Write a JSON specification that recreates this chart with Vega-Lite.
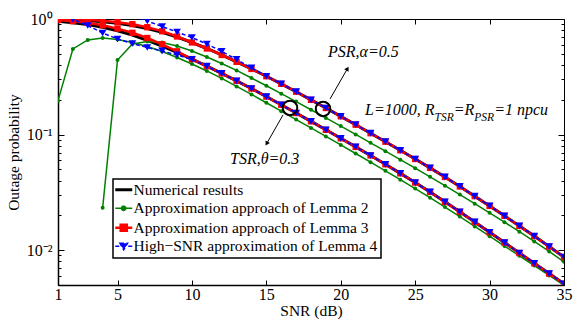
{
"$schema": "https://vega.github.io/schema/vega-lite/v6.json",
"width": 506, "height": 266,
"autosize": {"type": "none"},
"padding": {"left": 58, "top": 19, "right": 9, "bottom": 35},
"background": "white",
"config": {
  "view": {"stroke": "black", "strokeWidth": 1},
  "font": "Liberation Serif",
  "axis": {"labelFont": "Liberation Serif", "titleFont": "Liberation Serif", "labelFontSize": 16, "titleFontSize": 15.5, "labelColor": "black", "titleColor": "black", "titleFontWeight": "normal", "domainColor": "black", "tickColor": "black", "grid": false, "labelOverlap": false}
},
"datasets": {"one": [{}]},
"data": {"values": [
{"g":"P","m":"N","x":1,"p":0.9901},{"g":"P","m":"N","x":2,"p":0.9823},{"g":"P","m":"N","x":3,"p":0.9687},{"g":"P","m":"N","x":4,"p":0.9477},{"g":"P","m":"N","x":5,"p":0.918},{"g":"P","m":"N","x":6,"p":0.8786},{"g":"P","m":"N","x":7,"p":0.8276},{"g":"P","m":"N","x":8,"p":0.7675},{"g":"P","m":"N","x":9,"p":0.6988},{"g":"P","m":"N","x":10,"p":0.6264},{"g":"P","m":"N","x":11,"p":0.5558},{"g":"P","m":"N","x":12,"p":0.4884},{"g":"P","m":"N","x":13,"p":0.4257},{"g":"P","m":"N","x":14,"p":0.3698},{"g":"P","m":"N","x":15,"p":0.3197},{"g":"P","m":"N","x":16,"p":0.2749},{"g":"P","m":"N","x":17,"p":0.2349},{"g":"P","m":"N","x":18,"p":0.1999},{"g":"P","m":"N","x":19,"p":0.1698},{"g":"P","m":"N","x":20,"p":0.1439},{"g":"P","m":"N","x":21,"p":0.1218},{"g":"P","m":"N","x":22,"p":0.1028},{"g":"P","m":"N","x":23,"p":0.08683},{"g":"P","m":"N","x":24,"p":0.07314},{"g":"P","m":"N","x":25,"p":0.06152},{"g":"P","m":"N","x":26,"p":0.05154},{"g":"P","m":"N","x":27,"p":0.04301},{"g":"P","m":"N","x":28,"p":0.03559},{"g":"P","m":"N","x":29,"p":0.02935},{"g":"P","m":"N","x":30,"p":0.02415},{"g":"P","m":"N","x":31,"p":0.01983},{"g":"P","m":"N","x":32,"p":0.01622},{"g":"P","m":"N","x":33,"p":0.01324},{"g":"P","m":"N","x":34,"p":0.01076},{"g":"P","m":"N","x":35,"p":0.008718},
{"g":"T","m":"N","x":1,"p":0.9553},{"g":"T","m":"N","x":2,"p":0.929},{"g":"T","m":"N","x":3,"p":0.8945},{"g":"T","m":"N","x":4,"p":0.8477},{"g":"T","m":"N","x":5,"p":0.7906},{"g":"T","m":"N","x":6,"p":0.7258},{"g":"T","m":"N","x":7,"p":0.6545},{"g":"T","m":"N","x":8,"p":0.583},{"g":"T","m":"N","x":9,"p":0.5144},{"g":"T","m":"N","x":10,"p":0.45},{"g":"T","m":"N","x":11,"p":0.3909},{"g":"T","m":"N","x":12,"p":0.3387},{"g":"T","m":"N","x":13,"p":0.2917},{"g":"T","m":"N","x":14,"p":0.2503},{"g":"T","m":"N","x":15,"p":0.213},{"g":"T","m":"N","x":16,"p":0.1813},{"g":"T","m":"N","x":17,"p":0.1537},{"g":"T","m":"N","x":18,"p":0.1302},{"g":"T","m":"N","x":19,"p":0.11},{"g":"T","m":"N","x":20,"p":0.0929},{"g":"T","m":"N","x":21,"p":0.07828},{"g":"T","m":"N","x":22,"p":0.06597},{"g":"T","m":"N","x":23,"p":0.05537},{"g":"T","m":"N","x":24,"p":0.04621},{"g":"T","m":"N","x":25,"p":0.03847},{"g":"T","m":"N","x":26,"p":0.0319},{"g":"T","m":"N","x":27,"p":0.0262},{"g":"T","m":"N","x":28,"p":0.02147},{"g":"T","m":"N","x":29,"p":0.01757},{"g":"T","m":"N","x":30,"p":0.0143},{"g":"T","m":"N","x":31,"p":0.01165},{"g":"T","m":"N","x":32,"p":0.009458},{"g":"T","m":"N","x":33,"p":0.007702},{"g":"T","m":"N","x":34,"p":0.006276},{"g":"T","m":"N","x":35,"p":0.005124},
{"g":"P","m":"A","x":4,"p":0.02325},{"g":"P","m":"A","x":5,"p":0.442},{"g":"P","m":"A","x":6,"p":0.608},{"g":"P","m":"A","x":7,"p":0.6388},{"g":"P","m":"A","x":8,"p":0.6264},{"g":"P","m":"A","x":9,"p":0.5842},{"g":"P","m":"A","x":10,"p":0.529},{"g":"P","m":"A","x":11,"p":0.4693},{"g":"P","m":"A","x":12,"p":0.4124},{"g":"P","m":"A","x":13,"p":0.3589},{"g":"P","m":"A","x":14,"p":0.309},{"g":"P","m":"A","x":15,"p":0.2646},{"g":"P","m":"A","x":16,"p":0.2261},{"g":"P","m":"A","x":17,"p":0.1929},{"g":"P","m":"A","x":18,"p":0.1641},{"g":"P","m":"A","x":19,"p":0.1394},{"g":"P","m":"A","x":20,"p":0.1184},{"g":"P","m":"A","x":21,"p":0.1004},{"g":"P","m":"A","x":22,"p":0.08495},{"g":"P","m":"A","x":23,"p":0.07185},{"g":"P","m":"A","x":24,"p":0.06068},{"g":"P","m":"A","x":25,"p":0.05123},{"g":"P","m":"A","x":26,"p":0.04309},{"g":"P","m":"A","x":27,"p":0.03617},{"g":"P","m":"A","x":28,"p":0.0303},{"g":"P","m":"A","x":29,"p":0.02527},{"g":"P","m":"A","x":30,"p":0.02104},{"g":"P","m":"A","x":31,"p":0.01746},{"g":"P","m":"A","x":32,"p":0.01445},{"g":"P","m":"A","x":33,"p":0.01191},{"g":"P","m":"A","x":34,"p":0.009764},{"g":"P","m":"A","x":35,"p":0.007937},
{"g":"T","m":"A","x":1,"p":0.1967},{"g":"T","m":"A","x":2,"p":0.5504},{"g":"T","m":"A","x":3,"p":0.6584},{"g":"T","m":"A","x":4,"p":0.6851},{"g":"T","m":"A","x":5,"p":0.665},{"g":"T","m":"A","x":6,"p":0.6264},{"g":"T","m":"A","x":7,"p":0.5785},{"g":"T","m":"A","x":8,"p":0.5237},{"g":"T","m":"A","x":9,"p":0.4647},{"g":"T","m":"A","x":10,"p":0.4083},{"g":"T","m":"A","x":11,"p":0.3553},{"g":"T","m":"A","x":12,"p":0.306},{"g":"T","m":"A","x":13,"p":0.2609},{"g":"T","m":"A","x":14,"p":0.2225},{"g":"T","m":"A","x":15,"p":0.1887},{"g":"T","m":"A","x":16,"p":0.1596},{"g":"T","m":"A","x":17,"p":0.135},{"g":"T","m":"A","x":18,"p":0.1143},{"g":"T","m":"A","x":19,"p":0.09648},{"g":"T","m":"A","x":20,"p":0.08147},{"g":"T","m":"A","x":21,"p":0.06866},{"g":"T","m":"A","x":22,"p":0.05774},{"g":"T","m":"A","x":23,"p":0.04857},{"g":"T","m":"A","x":24,"p":0.04075},{"g":"T","m":"A","x":25,"p":0.03414},{"g":"T","m":"A","x":26,"p":0.02849},{"g":"T","m":"A","x":27,"p":0.02362},{"g":"T","m":"A","x":28,"p":0.01952},{"g":"T","m":"A","x":29,"p":0.01606},{"g":"T","m":"A","x":30,"p":0.01321},{"g":"T","m":"A","x":31,"p":0.01087},{"g":"T","m":"A","x":32,"p":0.008945},{"g":"T","m":"A","x":33,"p":0.007357},{"g":"T","m":"A","x":34,"p":0.006054},{"g":"T","m":"A","x":35,"p":0.004982},
{"g":"P","m":"B","x":1,"p":1.0},{"g":"P","m":"B","x":2,"p":0.996},{"g":"P","m":"B","x":3,"p":0.9842},{"g":"P","m":"B","x":4,"p":0.9667},{"g":"P","m":"B","x":5,"p":0.9383},{"g":"P","m":"B","x":6,"p":0.9017},{"g":"P","m":"B","x":7,"p":0.8494},{"g":"P","m":"B","x":8,"p":0.7829},{"g":"P","m":"B","x":9,"p":0.7058},{"g":"P","m":"B","x":10,"p":0.6264},{"g":"P","m":"B","x":11,"p":0.5558},{"g":"P","m":"B","x":12,"p":0.4884},{"g":"P","m":"B","x":13,"p":0.4257},{"g":"P","m":"B","x":14,"p":0.3698},{"g":"P","m":"B","x":15,"p":0.3197},{"g":"P","m":"B","x":16,"p":0.2749},{"g":"P","m":"B","x":17,"p":0.2349},{"g":"P","m":"B","x":18,"p":0.1999},{"g":"P","m":"B","x":19,"p":0.1698},{"g":"P","m":"B","x":20,"p":0.1439},{"g":"P","m":"B","x":21,"p":0.1218},{"g":"P","m":"B","x":22,"p":0.1028},{"g":"P","m":"B","x":23,"p":0.08683},{"g":"P","m":"B","x":24,"p":0.07314},{"g":"P","m":"B","x":25,"p":0.06152},{"g":"P","m":"B","x":26,"p":0.05154},{"g":"P","m":"B","x":27,"p":0.04301},{"g":"P","m":"B","x":28,"p":0.03559},{"g":"P","m":"B","x":29,"p":0.02935},{"g":"P","m":"B","x":30,"p":0.02415},{"g":"P","m":"B","x":31,"p":0.01983},{"g":"P","m":"B","x":32,"p":0.01622},{"g":"P","m":"B","x":33,"p":0.01324},{"g":"P","m":"B","x":34,"p":0.01076},{"g":"P","m":"B","x":35,"p":0.008718},
{"g":"T","m":"B","x":1,"p":0.9803},{"g":"T","m":"B","x":2,"p":0.9572},{"g":"T","m":"B","x":3,"p":0.9273},{"g":"T","m":"B","x":4,"p":0.8822},{"g":"T","m":"B","x":5,"p":0.826},{"g":"T","m":"B","x":6,"p":0.7598},{"g":"T","m":"B","x":7,"p":0.6851},{"g":"T","m":"B","x":8,"p":0.6044},{"g":"T","m":"B","x":9,"p":0.5258},{"g":"T","m":"B","x":10,"p":0.45},{"g":"T","m":"B","x":11,"p":0.3909},{"g":"T","m":"B","x":12,"p":0.3387},{"g":"T","m":"B","x":13,"p":0.2917},{"g":"T","m":"B","x":14,"p":0.2503},{"g":"T","m":"B","x":15,"p":0.213},{"g":"T","m":"B","x":16,"p":0.1813},{"g":"T","m":"B","x":17,"p":0.1537},{"g":"T","m":"B","x":18,"p":0.1302},{"g":"T","m":"B","x":19,"p":0.11},{"g":"T","m":"B","x":20,"p":0.0929},{"g":"T","m":"B","x":21,"p":0.07828},{"g":"T","m":"B","x":22,"p":0.06597},{"g":"T","m":"B","x":23,"p":0.05537},{"g":"T","m":"B","x":24,"p":0.04621},{"g":"T","m":"B","x":25,"p":0.03847},{"g":"T","m":"B","x":26,"p":0.0319},{"g":"T","m":"B","x":27,"p":0.0262},{"g":"T","m":"B","x":28,"p":0.02147},{"g":"T","m":"B","x":29,"p":0.01757},{"g":"T","m":"B","x":30,"p":0.0143},{"g":"T","m":"B","x":31,"p":0.01165},{"g":"T","m":"B","x":32,"p":0.009458},{"g":"T","m":"B","x":33,"p":0.007702},{"g":"T","m":"B","x":34,"p":0.006276},{"g":"T","m":"B","x":35,"p":0.005124},
{"g":"P","m":"C","x":4,"p":1.348},{"g":"P","m":"C","x":5,"p":1.196},{"g":"P","m":"C","x":6,"p":1.072},{"g":"P","m":"C","x":7,"p":0.961},{"g":"P","m":"C","x":8,"p":0.8614},{"g":"P","m":"C","x":9,"p":0.7721},{"g":"P","m":"C","x":10,"p":0.6919},{"g":"P","m":"C","x":11,"p":0.608},{"g":"P","m":"C","x":12,"p":0.5237},{"g":"P","m":"C","x":13,"p":0.4467},{"g":"P","m":"C","x":14,"p":0.3772},{"g":"P","m":"C","x":15,"p":0.3197},{"g":"P","m":"C","x":16,"p":0.2749},{"g":"P","m":"C","x":17,"p":0.2349},{"g":"P","m":"C","x":18,"p":0.1999},{"g":"P","m":"C","x":19,"p":0.1698},{"g":"P","m":"C","x":20,"p":0.1439},{"g":"P","m":"C","x":21,"p":0.1218},{"g":"P","m":"C","x":22,"p":0.1028},{"g":"P","m":"C","x":23,"p":0.08683},{"g":"P","m":"C","x":24,"p":0.07314},{"g":"P","m":"C","x":25,"p":0.06152},{"g":"P","m":"C","x":26,"p":0.05154},{"g":"P","m":"C","x":27,"p":0.04301},{"g":"P","m":"C","x":28,"p":0.03559},{"g":"P","m":"C","x":29,"p":0.02935},{"g":"P","m":"C","x":30,"p":0.02415},{"g":"P","m":"C","x":31,"p":0.01983},{"g":"P","m":"C","x":32,"p":0.01622},{"g":"P","m":"C","x":33,"p":0.01324},{"g":"P","m":"C","x":34,"p":0.01076},{"g":"P","m":"C","x":35,"p":0.008718},
{"g":"T","m":"C","x":1,"p":1.149},{"g":"T","m":"C","x":2,"p":0.994},{"g":"T","m":"C","x":3,"p":0.8786},{"g":"T","m":"C","x":4,"p":0.7568},{"g":"T","m":"C","x":5,"p":0.6716},{"g":"T","m":"C","x":6,"p":0.6141},{"g":"T","m":"C","x":7,"p":0.567},{"g":"T","m":"C","x":8,"p":0.529},{"g":"T","m":"C","x":9,"p":0.4884},{"g":"T","m":"C","x":10,"p":0.4467},{"g":"T","m":"C","x":11,"p":0.3909},{"g":"T","m":"C","x":12,"p":0.3387},{"g":"T","m":"C","x":13,"p":0.2917},{"g":"T","m":"C","x":14,"p":0.2503},{"g":"T","m":"C","x":15,"p":0.213},{"g":"T","m":"C","x":16,"p":0.1813},{"g":"T","m":"C","x":17,"p":0.1537},{"g":"T","m":"C","x":18,"p":0.1302},{"g":"T","m":"C","x":19,"p":0.11},{"g":"T","m":"C","x":20,"p":0.0929},{"g":"T","m":"C","x":21,"p":0.07828},{"g":"T","m":"C","x":22,"p":0.06597},{"g":"T","m":"C","x":23,"p":0.05537},{"g":"T","m":"C","x":24,"p":0.04621},{"g":"T","m":"C","x":25,"p":0.03847},{"g":"T","m":"C","x":26,"p":0.0319},{"g":"T","m":"C","x":27,"p":0.0262},{"g":"T","m":"C","x":28,"p":0.02147},{"g":"T","m":"C","x":29,"p":0.01757},{"g":"T","m":"C","x":30,"p":0.0143},{"g":"T","m":"C","x":31,"p":0.01165},{"g":"T","m":"C","x":32,"p":0.009458},{"g":"T","m":"C","x":33,"p":0.007702},{"g":"T","m":"C","x":34,"p":0.006276},{"g":"T","m":"C","x":35,"p":0.005124}
]},
"resolve": {"axis": {"x": "independent", "y": "independent"}},
"layer": [
{
  "transform": [{"filter": "datum.m == 'N'"}],
  "mark": {"type": "line", "strokeWidth": 3, "clip": true},
  "encoding": {
    "x": {"field": "x", "type": "quantitative", "scale": {"domain": [1, 35], "nice": false, "zero": false},
      "axis": {"orient": "bottom", "title": "SNR (dB)", "values": [1,5,10,15,20,25,30,35], "tickSize": -5, "labelPadding": 6, "titlePadding": 1, "domainWidth": 1.5, "labelFlush": false}},
    "y": {"field": "p", "type": "quantitative", "scale": {"type": "log", "domain": [0.005, 1], "nice": false},
      "axis": {"orient": "left", "title": "Outage probability", "values": [0.005,0.006,0.007,0.008,0.009,0.01,0.02,0.03,0.04,0.05,0.06,0.07,0.08,0.09,0.1,0.2,0.3,0.4,0.5,0.6,0.7,0.8,0.9,1],
        "labelExpr": "datum.value==1?'10⁰':datum.value==0.1?'10⁻¹':datum.value==0.01?'10⁻²':''",
        "tickSize": {"condition": {"test": "datum.value==1||datum.value==0.1||datum.value==0.01", "value": -6}, "value": -3},
        "labelPadding": 12, "titlePadding": 5, "domainWidth": 1.5}},
    "detail": {"field": "g"},
    "color": {"field": "m", "type": "nominal",
      "scale": {"domain": ["N","A","B","C"], "range": ["#000000","#008000","#ff0000","#0000ff"]},
      "legend": {
        "orient": "none", "legendX": 55, "legendY": 160, "title": null,
        "labelExpr": "datum.value=='N'?'Numerical results':datum.value=='A'?'Approximation approach of Lemma 2':datum.value=='B'?'Approximation approach of Lemma 3':'High−SNR approximation of Lemma 4'",
        "labelFont": "Liberation Serif", "labelFontSize": 15.5, "labelColor": "black", "labelLimit": 400, "labelOffset": 2,
        "symbolSize": 289, "padding": 3, "rowPadding": 1.5,
        "strokeColor": "black", "fillColor": "white",
        "encode": {
          "legend": {"update": {"strokeWidth": {"value": 1.5}}},
          "symbols": {"update": {
          "shape": {"signal": "datum.value=='N'?'M-1,0L1,0':datum.value=='A'?'M-1,0L1,0M0.25,0A0.25,0.25,0,1,1,-0.25,0A0.25,0.25,0,1,1,0.25,0Z':datum.value=='B'?'M-1,0L1,0M-0.36,-0.36L0.36,-0.36L0.36,0.36L-0.36,0.36Z':'M-1,0L1,0M-0.45,-0.35L0.45,-0.35L0,0.42Z'"},
          "stroke": {"signal": "datum.value=='N'?'#000000':datum.value=='A'?'#008000':datum.value=='B'?'#ff0000':'#0000ff'"},
          "fill": {"signal": "datum.value=='N'?'transparent':datum.value=='A'?'#008000':datum.value=='B'?'#ff0000':'#0000ff'"},
          "strokeWidth": {"signal": "datum.value=='N'?3:datum.value=='B'?2.5:1.5"},
          "strokeDash": {"signal": "datum.value=='C'?[4,2.5]:[1,0]"},
          "opacity": {"value": 1}
        }}}
      }}
  }
},
{
  "transform": [{"filter": "datum.m == 'A'"}],
  "mark": {"type": "line", "strokeWidth": 1.5, "clip": true},
  "encoding": {
    "x": {"field": "x", "type": "quantitative", "axis": null},
    "y": {"field": "p", "type": "quantitative", "axis": null},
    "detail": {"field": "g"},
    "color": {"field": "m", "type": "nominal"}
  }
},
{
  "transform": [{"filter": "datum.m == 'A'"}],
  "mark": {"type": "point", "shape": "circle", "filled": true, "size": 16, "opacity": 1, "clip": true},
  "encoding": {
    "x": {"field": "x", "type": "quantitative", "axis": null},
    "y": {"field": "p", "type": "quantitative", "axis": null},
    "color": {"field": "m", "type": "nominal"}
  }
},
{
  "transform": [{"filter": "datum.m == 'B'"}],
  "mark": {"type": "line", "strokeWidth": 2.5, "clip": true},
  "encoding": {
    "x": {"field": "x", "type": "quantitative", "axis": null},
    "y": {"field": "p", "type": "quantitative", "axis": null},
    "detail": {"field": "g"},
    "color": {"field": "m", "type": "nominal"}
  }
},
{
  "transform": [{"filter": "datum.m == 'B'"}],
  "mark": {"type": "point", "shape": "square", "filled": true, "size": 40, "opacity": 1, "clip": true},
  "encoding": {
    "x": {"field": "x", "type": "quantitative", "axis": null},
    "y": {"field": "p", "type": "quantitative", "axis": null},
    "color": {"field": "m", "type": "nominal"}
  }
},
{
  "transform": [{"filter": "datum.m == 'C'"}],
  "mark": {"type": "line", "strokeWidth": 1.5, "strokeDash": [4, 2.5], "clip": true},
  "encoding": {
    "x": {"field": "x", "type": "quantitative", "axis": null},
    "y": {"field": "p", "type": "quantitative", "axis": null},
    "detail": {"field": "g"},
    "color": {"field": "m", "type": "nominal"}
  }
},
{
  "transform": [{"filter": "datum.m == 'C'"}],
  "mark": {"type": "point", "shape": "triangle-down", "filled": true, "size": 60, "opacity": 1, "clip": true},
  "encoding": {
    "x": {"field": "x", "type": "quantitative", "axis": null},
    "y": {"field": "p", "type": "quantitative", "axis": null},
    "color": {"field": "m", "type": "nominal"}
  }
},
{
  "data": {"name": "one"},
  "mark": {"type": "point", "shape": "circle", "filled": false, "size": 210, "stroke": "black", "strokeWidth": 2, "opacity": 1},
  "encoding": {
    "x": {"datum": 18.81, "type": "quantitative", "axis": {"orient": "top", "values": [5,10,15,20,25,30], "labels": false, "tickSize": -5, "domain": false, "title": null}},
    "y": {"datum": 0.1668, "type": "quantitative", "axis": {"orient": "right", "values": [0.005,0.006,0.007,0.008,0.009,0.01,0.02,0.03,0.04,0.05,0.06,0.07,0.08,0.09,0.1,0.2,0.3,0.4,0.5,0.6,0.7,0.8,0.9,1], "labels": false, "domain": false, "title": null,
      "tickSize": {"condition": {"test": "datum.value==1||datum.value==0.1||datum.value==0.01", "value": -6}, "value": -3}}}
  }
},
{
  "data": {"name": "one"},
  "mark": {"type": "point", "shape": "circle", "filled": false, "size": 210, "stroke": "black", "strokeWidth": 2, "opacity": 1},
  "encoding": {
    "x": {"datum": 16.59, "type": "quantitative", "axis": null},
    "y": {"datum": 0.1702, "type": "quantitative", "axis": null}
  }
},
{
  "data": {"name": "one"},
  "mark": {"type": "rule", "color": "black", "strokeWidth": 1},
  "encoding": {
    "x": {"datum": 19.28, "type": "quantitative", "axis": null}, "x2": {"datum": 20.45},
    "y": {"datum": 0.2035, "type": "quantitative", "axis": null}, "y2": {"datum": 0.372}
  }
},
{
  "data": {"name": "one"},
  "mark": {"type": "rule", "color": "black", "strokeWidth": 1},
  "encoding": {
    "x": {"datum": 16.12, "type": "quantitative", "axis": null}, "x2": {"datum": 15.02},
    "y": {"datum": 0.148, "type": "quantitative", "axis": null}, "y2": {"datum": 0.0835}
  }
},
{
  "data": {"name": "one"},
  "mark": {"type": "point", "shape": "triangle-up", "filled": true, "size": 25, "color": "black", "opacity": 1, "angle": 30},
  "encoding": {
    "x": {"datum": 20.45, "type": "quantitative", "axis": null},
    "y": {"datum": 0.372, "type": "quantitative", "axis": null}
  }
},
{
  "data": {"name": "one"},
  "mark": {"type": "point", "shape": "triangle-down", "filled": true, "size": 25, "color": "black", "opacity": 1, "angle": 30},
  "encoding": {
    "x": {"datum": 15.02, "type": "quantitative", "axis": null},
    "y": {"datum": 0.0835, "type": "quantitative", "axis": null}
  }
},
{
  "data": {"name": "one"},
  "mark": {"type": "text", "text": "PSR,α=0.5", "font": "Liberation Serif", "fontStyle": "italic", "fontSize": 16, "align": "left", "baseline": "alphabetic", "fill": "black"},
  "encoding": {"x": {"datum": 19.14, "type": "quantitative", "axis": null}, "y": {"datum": 0.4694, "type": "quantitative", "axis": null}}
},
{
  "data": {"name": "one"},
  "mark": {"type": "text", "text": "TSR,θ=0.3", "font": "Liberation Serif", "fontStyle": "italic", "fontSize": 16, "align": "left", "baseline": "alphabetic", "fill": "black"},
  "encoding": {"x": {"datum": 12.56, "type": "quantitative", "axis": null}, "y": {"datum": 0.05581, "type": "quantitative", "axis": null}}
},
{
  "data": {"name": "one"},
  "mark": {"type": "text", "text": "L=1000, R", "font": "Liberation Serif", "fontStyle": "italic", "fontSize": 16, "align": "left", "baseline": "alphabetic", "fill": "black"},
  "encoding": {"x": {"datum": 21.63, "type": "quantitative", "axis": null}, "y": {"datum": 0.148, "type": "quantitative", "axis": null}}
},
{
  "data": {"name": "one"},
  "mark": {"type": "text", "text": "TSR", "font": "Liberation Serif", "fontStyle": "italic", "fontSize": 11.5, "align": "left", "baseline": "alphabetic", "fill": "black"},
  "encoding": {"x": {"datum": 26.3, "type": "quantitative", "axis": null}, "y": {"datum": 0.1314, "type": "quantitative", "axis": null}}
},
{
  "data": {"name": "one"},
  "mark": {"type": "text", "text": "=R", "font": "Liberation Serif", "fontStyle": "italic", "fontSize": 16, "align": "left", "baseline": "alphabetic", "fill": "black"},
  "encoding": {"x": {"datum": 27.59, "type": "quantitative", "axis": null}, "y": {"datum": 0.148, "type": "quantitative", "axis": null}}
},
{
  "data": {"name": "one"},
  "mark": {"type": "text", "text": "PSR", "font": "Liberation Serif", "fontStyle": "italic", "fontSize": 11.5, "align": "left", "baseline": "alphabetic", "fill": "black"},
  "encoding": {"x": {"datum": 28.97, "type": "quantitative", "axis": null}, "y": {"datum": 0.1314, "type": "quantitative", "axis": null}}
},
{
  "data": {"name": "one"},
  "mark": {"type": "text", "text": "=1 npcu", "font": "Liberation Serif", "fontStyle": "italic", "fontSize": 16, "align": "left", "baseline": "alphabetic", "fill": "black"},
  "encoding": {"x": {"datum": 30.31, "type": "quantitative", "axis": null}, "y": {"datum": 0.148, "type": "quantitative", "axis": null}}
}
]
}
